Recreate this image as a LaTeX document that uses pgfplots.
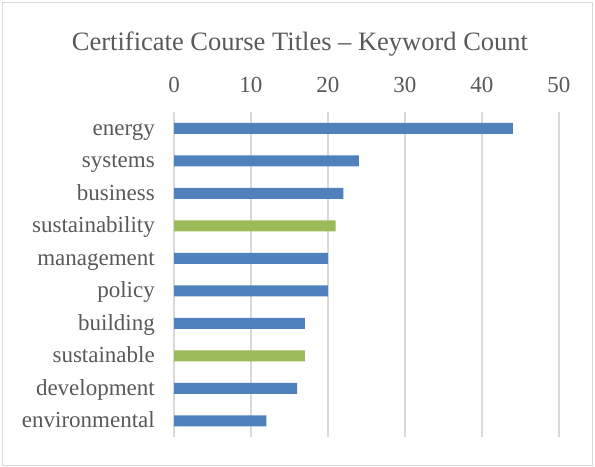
\documentclass[border=0pt]{standalone}
\usepackage{pgfplots}
\pgfplotsset{compat=1.18}
\usepackage{fontspec}
\setmainfont{Liberation Serif}
\definecolor{txt}{HTML}{595959}
\definecolor{barblue}{HTML}{4F81BD}
\definecolor{bargreen}{HTML}{9BBB59}
\definecolor{gridc}{HTML}{D9D9D9}
\begin{document}
\begin{tikzpicture}
\path[use as bounding box] (0,0) rectangle (595bp,-467bp);
\draw[gridc, line width=1bp] (2bp,-2bp) rectangle (592bp,-465bp);
\node[text=txt, font=\fontsize{26.5bp}{30bp}\selectfont, anchor=base] at (300bp,-50bp) {Certificate Course Titles – Keyword Count};
\begin{axis}[
  at={(174bp,-112bp)}, anchor=north west,
  scale only axis, width=385bp, height=325bp,
  xmin=0, xmax=50, ymin=-0.5, ymax=9.5,
  y dir=reverse,
  xbar, bar width=11bp, bar shift=0pt,
  axis line style={draw=none},
  xtick={0,10,...,50},
  xticklabel pos=upper,
  ytick={0,...,9},
  yticklabels={energy,systems,business,sustainability,management,policy,building,sustainable,development,environmental},
  major tick length=0pt,
  xmajorgrids, grid style={gridc, line width=1.5bp},
  ticklabel style={text=txt, font=\fontsize{23bp}{26bp}\selectfont},
  xticklabel style={inner sep=0pt, anchor=base, yshift=20bp},
  yticklabel style={inner sep=0pt, anchor=base east, xshift=-19bp, yshift=-7bp},
  /pgf/number format/assume math mode=true,
  clip=false,
]
\addplot[fill=barblue, draw=none] coordinates {(44,0) (24,1) (22,2) (20,4) (20,5) (17,6) (16,8) (12,9)};
\addplot[fill=bargreen, draw=none] coordinates {(21,3) (17,7)};
\end{axis}
\end{tikzpicture}
\end{document}
